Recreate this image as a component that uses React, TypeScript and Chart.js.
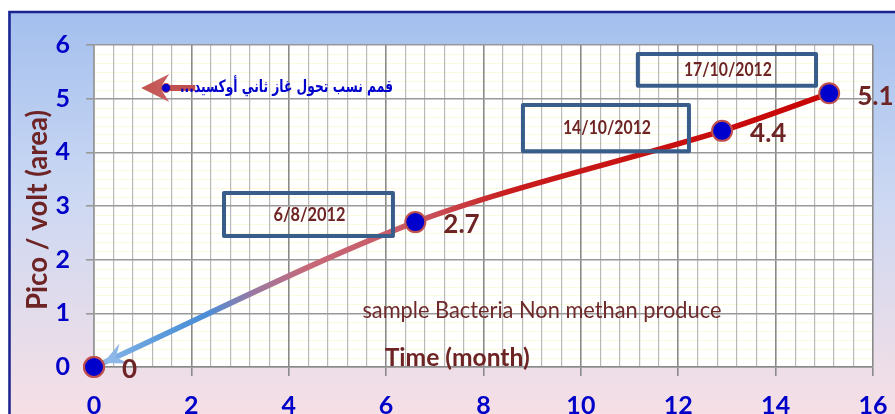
import React, { useEffect, useRef } from "react";
import { Chart, registerables } from "chart.js";

Chart.register(...registerables);

// ---- data ----
const timeMonths = [0, 6.6, 12.9, 15.1];
const picoVolt = [0, 2.7, 4.4, 5.1];
const pointLabels = ["0", "2.7", "4.4", "5.1"];
const dateLabels = ["6/8/2012", "14/10/2012", "17/10/2012"];
const xTitle = "Time (month)";
const yTitle = "Pico / volt (area)";
const sampleNote = "sample Bacteria Non methan produce";
const arabicNote = "قمم نسب تحول غاز ثاني أوكسيد...";
const xMin = 0, xMax = 16, xStep = 0.4, xMajor = 2;
const yMin = 0, yMax = 6, yStep = 1;

// ---- annotation layout (data coordinates) ----
const dateBoxes = [
  { x0: 2.67, x1: 6.14, yTop: 3.24, yBot: 2.44 },
  { x0: 8.81, x1: 12.22, yTop: 4.88, yBot: 4.02 },
  { x0: 11.17, x1: 14.83, yTop: 5.83, yBot: 5.24 },
];

const BROWN = "#6e2424";
const BLUE = "#0000c8";
const FONT = "Lato, 'Open Sans', sans-serif";

// draw text at a given font size, squeezed horizontally to a target width
function drawFit(
  ctx: CanvasRenderingContext2D,
  text: string,
  weight: string,
  family: string,
  size: number,
  targetW: number,
  x: number,
  y: number,
  align: CanvasTextAlign
) {
  ctx.font = `${weight} ${size}px ${family}`;
  const w = ctx.measureText(text).width;
  const sx = targetW / w;
  ctx.save();
  ctx.translate(x, y);
  ctx.scale(sx, 1);
  ctx.textAlign = align;
  ctx.textBaseline = "middle";
  ctx.fillText(text, 0, 0);
  ctx.restore();
}

const isMajor = (v: number) => Math.abs(v / xMajor - Math.round(v / xMajor)) < 1e-6;

const bgPlugin = {
  id: "bgPlugin",
  beforeDraw(chart: any) {
    const { ctx, chartArea: a, width, height } = chart;
    ctx.save();
    ctx.fillStyle = "#ffffff";
    ctx.fillRect(0, 0, width, height);
    const g = ctx.createLinearGradient(0, 11, 0, height);
    g.addColorStop(0, "#a3bfee");
    g.addColorStop(0.45, "#cbd8f3");
    g.addColorStop(1, "#f6dfe5");
    ctx.fillStyle = g;
    ctx.fillRect(8, 11, width - 8, height - 11);
    ctx.strokeStyle = "#1a2390";
    ctx.lineWidth = 2.5;
    ctx.beginPath();
    ctx.moveTo(9.5, height);
    ctx.lineTo(9.5, 12);
    ctx.lineTo(width, 12);
    ctx.stroke();
    ctx.fillStyle = "#ffffff";
    ctx.fillRect(a.left, a.top, a.right - a.left, a.bottom - a.top);
    // faint yellow minor horizontal lines
    const ys = chart.scales.y;
    ctx.strokeStyle = "#fcfadc";
    ctx.lineWidth = 1;
    for (let v = yMin; v < yMax; v++) {
      for (let k = 1; k < 6; k++) {
        const py = Math.round(ys.getPixelForValue(v + k / 6)) + 0.5;
        ctx.beginPath();
        ctx.moveTo(a.left, py);
        ctx.lineTo(a.right, py);
        ctx.stroke();
      }
    }
    ctx.restore();
  },
};

const annotPlugin = {
  id: "annotPlugin",
  afterDatasetsDraw(chart: any) {
    const { ctx, chartArea: a } = chart;
    const xs = chart.scales.x;
    const ys = chart.scales.y;
    const px = (v: number) => xs.getPixelForValue(v);
    const py = (v: number) => ys.getPixelForValue(v);
    const meta = chart.getDatasetMeta(0);
    ctx.save();

    // arrowhead at origin
    const p0 = meta.data[0];
    const p1 = meta.data[1];
    const ang = Math.atan2(p1.y - p0.y, p1.x - p0.x);
    const ux = Math.cos(ang), uy = Math.sin(ang);
    const nx = -uy, ny = ux;
    const tipX = p0.x + ux * 10, tipY = p0.y + uy * 10;
    const len = 23, half = 11, notch = 14;
    ctx.fillStyle = "#8db7e6";
    ctx.beginPath();
    ctx.moveTo(tipX, tipY);
    ctx.lineTo(tipX + ux * len + nx * half, tipY + uy * len + ny * half);
    ctx.lineTo(tipX + ux * notch, tipY + uy * notch);
    ctx.lineTo(tipX + ux * len - nx * half, tipY + uy * len - ny * half);
    ctx.closePath();
    ctx.fill();
    // redraw origin marker on top
    ctx.beginPath();
    ctx.arc(p0.x, p0.y, 10, 0, Math.PI * 2);
    ctx.fillStyle = "#0000cc";
    ctx.fill();
    ctx.lineWidth = 2;
    ctx.strokeStyle = "#c0504d";
    ctx.stroke();

    // date boxes
    dateBoxes.forEach((b, i) => {
      const x0 = px(b.x0), x1 = px(b.x1), y0 = py(b.yTop), y1 = py(b.yBot);
      ctx.strokeStyle = "#385d8a";
      ctx.lineWidth = 4;
      ctx.lineJoin = "round";
      ctx.strokeRect(x0, y0, x1 - x0, y1 - y0);
      const t = dateLabels[i];
      ctx.fillStyle = BROWN;
      drawFit(ctx, t, "bold", FONT, 19, t.length === 8 ? 72 : 88, (x0 + x1) / 2 + 1, (y0 + y1) / 2, "center");
    });

    // data labels
    ctx.font = `bold 26px ${FONT}`;
    ctx.fillStyle = BROWN;
    ctx.textAlign = "left";
    ctx.textBaseline = "middle";
    meta.data.forEach((pt: any, i: number) => {
      ctx.fillText(pointLabels[i], pt.x + 28, pt.y + 3);
    });

    // sample note
    ctx.fillStyle = "#6e2a2a";
    drawFit(ctx, sampleNote, "normal", FONT, 24, 359, px(9.2), py(1.06), "center");

    // x title
    ctx.fillStyle = BROWN;
    drawFit(ctx, xTitle, "bold", FONT, 24, 145, px(7.46), a.bottom - 9, "center");

    // y title
    ctx.save();
    ctx.translate(38, (a.top + a.bottom) / 2 + 4);
    ctx.rotate(-Math.PI / 2);
    ctx.fillStyle = BROWN;
    drawFit(ctx, yTitle, "bold", FONT, 28, 200, 0, 0, "center");
    ctx.restore();

    // arabic note with arrow
    const ay = py(5.2);
    const tip = px(0.97);
    const gA = ctx.createLinearGradient(tip, 0, tip + 55, 0);
    gA.addColorStop(0, "#c0504d");
    gA.addColorStop(1, "#d27478");
    ctx.strokeStyle = "#c0504d";
    ctx.lineWidth = 6;
    ctx.beginPath();
    ctx.moveTo(tip + 54, ay);
    ctx.lineTo(tip + 18, ay);
    ctx.stroke();
    ctx.fillStyle = gA;
    ctx.beginPath();
    ctx.moveTo(tip, ay);
    ctx.lineTo(tip + 28, ay - 14);
    ctx.lineTo(tip + 19, ay);
    ctx.lineTo(tip + 28, ay + 14);
    ctx.closePath();
    ctx.fill();
    ctx.beginPath();
    ctx.arc(px(1.48), ay, 4.5, 0, Math.PI * 2);
    ctx.fillStyle = "#0000cc";
    ctx.fill();
    ctx.lineWidth = 1;
    ctx.strokeStyle = "#c0504d";
    ctx.stroke();

    ctx.direction = "rtl";
    ctx.fillStyle = "#0000cc";
    drawFit(ctx, arabicNote, "bold", "'DejaVu Sans', sans-serif", 17, 213, px(6.14), ay, "right");
    ctx.restore();
  },
};

export default function App() {
  const canvasRef = useRef<HTMLCanvasElement | null>(null);

  useEffect(() => {
    const canvas = canvasRef.current;
    if (!canvas) return;
    const lineGradient = (context: any) => {
      const chart = context.chart;
      const a = chart.chartArea;
      if (!a) return "#c00000";
      const g = chart.ctx.createLinearGradient(a.left, 0, a.right, 0);
      const s = (v: number) => (v - xMin) / (xMax - xMin);
      g.addColorStop(s(0), "#8dbae9");
      g.addColorStop(s(1.3), "#5d9cdb");
      g.addColorStop(s(2.3), "#4a8ed8");
      g.addColorStop(s(3.3), "#9c78a0");
      g.addColorStop(s(4.4), "#c66878");
      g.addColorStop(s(6.6), "#c95862");
      g.addColorStop(s(8.6), "#c81c1c");
      g.addColorStop(s(16), "#c80000");
      return g;
    };

    const chart = new Chart(canvas, {
      type: "line",
      data: {
        datasets: [
          {
            data: timeMonths.map((t, i) => ({ x: t, y: picoVolt[i] })),
            borderColor: lineGradient,
            borderWidth: 5.5,
            tension: 0.3,
            pointRadius: 10,
            pointHoverRadius: 10,
            pointBackgroundColor: "#0000cc",
            pointBorderColor: "#c0504d",
            pointBorderWidth: 2,
            clip: false as any,
          },
        ],
      },
      options: {
        responsive: false,
        animation: false,
        events: [],
        layout: { padding: { top: 45, right: 22, left: 0, bottom: 0 } },
        plugins: { legend: { display: false }, tooltip: { enabled: false } },
        scales: {
          x: {
            type: "linear",
            min: xMin,
            max: xMax,
            afterFit: (s: any) => {
              s.height = 47;
              s.paddingLeft = 0;
              s.paddingRight = 0;
            },
            ticks: {
              stepSize: xStep,
              autoSkip: false,
              maxRotation: 0,
              padding: 15,
              color: BLUE,
              font: { family: FONT, weight: "bold", size: 25 },
              callback: (v: any) => (isMajor(Number(v)) ? String(Math.round(Number(v))) : ""),
            },
            grid: {
              color: (c: any) => (isMajor(c.tick?.value ?? 0) ? "#8a8a8a" : "#b9b9b9"),
              lineWidth: (c: any) => (isMajor(c.tick?.value ?? 0) ? 1.6 : 1.2),
              tickColor: (c: any) => (isMajor(c.tick?.value ?? 0) ? "#8a8a8a" : "rgba(0,0,0,0)"),
              tickLength: 9,
            },
            border: { display: true, color: "#8a8a8a", width: 1.6 },
          },
          y: {
            type: "linear",
            min: yMin,
            max: yMax,
            afterFit: (s: any) => {
              s.width = 94;
              s.paddingTop = 0;
              s.paddingBottom = 0;
            },
            ticks: {
              stepSize: yStep,
              padding: 16,
              color: BLUE,
              font: { family: FONT, weight: "bold", size: 25 },
            },
            grid: { color: "#999999", lineWidth: 1.6, tickLength: 8 },
            border: { display: true, color: "#999999", width: 1.6 },
          },
        },
      },
      plugins: [bgPlugin, annotPlugin],
    });
    return () => chart.destroy();
  }, []);

  return (
    <div style={{ position: "absolute", left: 0, top: 0, width: 895, height: 414 }}>
      <canvas ref={canvasRef} width={895} height={414} style={{ display: "block", width: 895, height: 414 }} />
    </div>
  );
}
